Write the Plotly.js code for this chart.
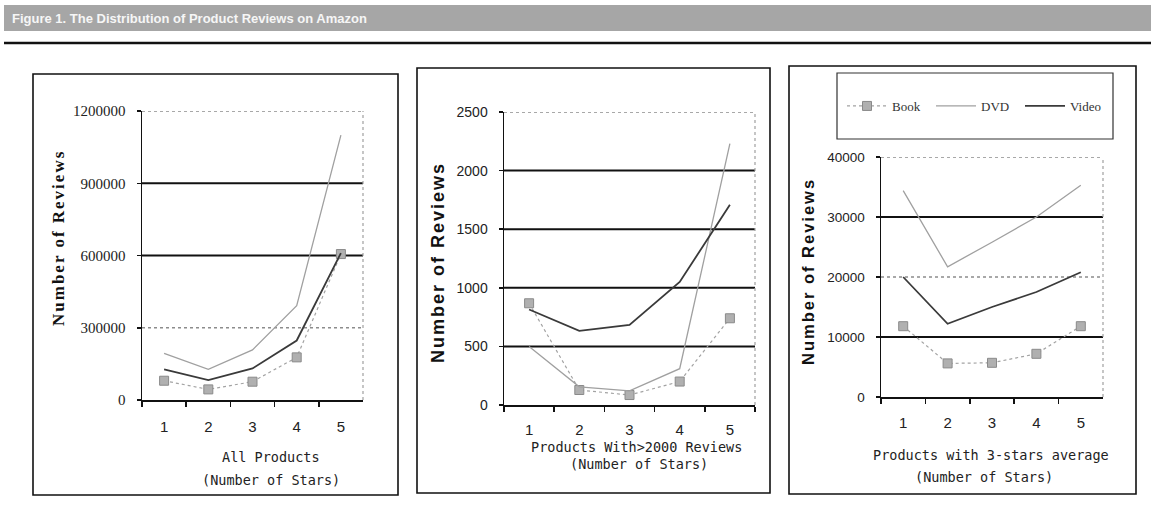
<!DOCTYPE html>
<html><head><meta charset="utf-8">
<script src="https://cdn.plot.ly/plotly-3.0.1.min.js"></script>
<style>html,body{margin:0;padding:0;background:#fff}#chart{width:1151px;height:515px}</style>
</head><body><div id="chart"></div>
<script>
// ---------- data ----------
const stars = ['1', '2', '3', '4', '5'];
const seriesNames = ['Book', 'DVD', 'Video'];

// Panel 1: All Products
const allBook  = [80000, 44000, 76000, 177000, 606000];
const allDVD   = [194000, 127000, 208000, 392000, 1100000];
const allVideo = [127000, 83000, 131000, 247000, 610000];

// Panel 2: Products With >2000 Reviews
const bigBook  = [868, 128, 85, 200, 740];
const bigDVD   = [500, 155, 120, 310, 2230];
const bigVideo = [815, 632, 683, 1050, 1708];

// Panel 3: Products with 3-stars average
const avgBook  = [11800, 5600, 5700, 7200, 11800];
const avgDVD   = [34400, 21700, 25800, 30000, 35300];
const avgVideo = [20000, 12200, 15000, 17500, 20800];

// tick values
const yTicks1 = [0, 300000, 600000, 900000, 1200000];
const yTicks2 = [0, 500, 1000, 1500, 2000, 2500];
const yTicks3 = [0, 10000, 20000, 30000, 40000];

// gridlines (value lists) – dark ones and light dotted ones
const grid1Dark = [600000, 900000];
const grid1Light = [300000, 1200000];
const grid2Dark = [500, 1000, 1500, 2000];
const grid2Light = [2500];
const grid3Dark = [10000, 30000];
const grid3Light = [20000, 40000];

// texts
const figTitle = 'Figure 1. The Distribution of Product Reviews on Amazon';
const yTitle = 'Number of Reviews';
const xTitles = [
  ['All Products', '(Number of Stars)'],
  ['Products With>2000 Reviews', '(Number of Stars)'],
  ['Products with 3-stars average', '(Number of Stars)']
];

// ---------- layout helpers ----------
const W = 1151, H = 515;
const px = x => x / W;
const py = y => 1 - y / H;

const styles = {
  Book:  {line: {color: '#a3a3a3', width: 1.2, dash: 'dot'}, marker: {symbol: 'square', size: 9, color: '#b0b0b0', line: {color: '#8a8a8a', width: 1}}, mode: 'lines+markers'},
  DVD:   {line: {color: '#a0a0a0', width: 1.3}, mode: 'lines'},
  Video: {line: {color: '#3a3a3a', width: 1.8}, mode: 'lines'}
};

const panels = [
  {vals: [allBook, allDVD, allVideo], xa: 'x', ya: 'y'},
  {vals: [bigBook, bigDVD, bigVideo], xa: 'x2', ya: 'y2'},
  {vals: [avgBook, avgDVD, avgVideo], xa: 'x3', ya: 'y3'}
];

const traces = [];
panels.forEach((p, pi) => {
  seriesNames.forEach((name, si) => {
    const s = styles[name];
    const t = {
      type: 'scatter', x: stars, y: p.vals[si], name: name,
      xaxis: p.xa, yaxis: p.ya, mode: s.mode, line: s.line,
      showlegend: pi === 2, hoverinfo: 'skip'
    };
    if (s.marker) t.marker = s.marker;
    traces.push(t);
  });
});

function xAxis(l, r, standoff) {
  return {
    domain: [px(l), px(r)], type: 'category', categoryorder: 'array', categoryarray: stars,
    range: [-0.5, 4.5], tickson: 'boundaries', ticks: 'outside', ticklen: 5, tickwidth: 1.5,
    tickcolor: '#111', showline: true, linecolor: '#111', linewidth: 1.5,
    showgrid: false, zeroline: false, fixedrange: true, ticklabelstandoff: standoff,
    tickfont: {family: 'Liberation Sans, Arial, sans-serif', size: 15, color: '#222'}
  };
}
function yAxis(t, b, max, tickvals, font, anchor) {
  return {
    domain: [py(b), py(t)], range: [0, max], tickvals: tickvals, tickformat: 'd',
    ticks: 'outside', ticklen: 4, tickwidth: 1.5, tickcolor: '#111',
    showline: true, linecolor: '#111', linewidth: 1.5, showgrid: false, zeroline: false,
    fixedrange: true, tickfont: font, ticklabelstandoff: 8, anchor: anchor
  };
}

const shapes = [];
// title banner
shapes.push({type: 'rect', xref: 'paper', yref: 'paper', x0: px(4), x1: px(1151), y0: py(31), y1: py(5),
  fillcolor: '#a6a6a6', line: {width: 0}, layer: 'below'});
shapes.push({type: 'line', xref: 'paper', yref: 'paper', x0: px(4), x1: px(1151), y0: py(43), y1: py(43),
  line: {color: '#111', width: 2.5}});
// panel frames
[[33, 74, 398, 495], [417, 68, 770, 493], [789, 66, 1136, 494]].forEach(b => {
  shapes.push({type: 'rect', xref: 'paper', yref: 'paper', x0: px(b[0]), x1: px(b[2]), y0: py(b[3]), y1: py(b[1]),
    line: {color: '#111', width: 1.6}, fillcolor: 'rgba(0,0,0,0)', layer: 'below'});
});
// legend frame
shapes.push({type: 'rect', xref: 'paper', yref: 'paper', x0: px(837), x1: px(1113), y0: py(139), y1: py(73),
  line: {color: '#333', width: 1.2}, fillcolor: 'rgba(0,0,0,0)'});

function gridShapes(axSuffix, dark, light) {
  dark.forEach(v => shapes.push({type: 'line', xref: 'x' + axSuffix + ' domain', yref: 'y' + axSuffix,
    x0: 0, x1: 1, y0: v, y1: v, line: {color: '#111', width: 2}, layer: 'below'}));
  light.forEach(v => shapes.push({type: 'line', xref: 'x' + axSuffix + ' domain', yref: 'y' + axSuffix,
    x0: 0, x1: 1, y0: v, y1: v, line: {color: '#8c8c8c', width: 1.5, dash: 'dot'}, layer: 'below'}));
  // right border of plot area
  shapes.push({type: 'line', xref: 'x' + axSuffix + ' domain', yref: 'y' + axSuffix + ' domain',
    x0: 1, x1: 1, y0: 0, y1: 1, line: {color: '#a0a0a0', width: 1.2, dash: 'dot'}, layer: 'below'});
}
gridShapes('', grid1Dark, grid1Light);
gridShapes('2', grid2Dark, grid2Light);
gridShapes('3', grid3Dark, grid3Light);

const monoFont = {family: 'DejaVu Sans Mono, monospace', size: 13.5, color: '#222'};
const annotations = [
  {text: '<b>' + figTitle + '</b>', xref: 'paper', yref: 'paper', x: px(10), y: py(18), xanchor: 'left', yanchor: 'middle',
    showarrow: false, font: {family: 'Liberation Sans, Arial, sans-serif', size: 13, color: '#f6f6f6'}},
  {text: '<b>' + yTitle + '</b>', xref: 'paper', yref: 'paper', x: px(58), y: py(238), textangle: -90, showarrow: false,
    xanchor: 'center', yanchor: 'middle', font: {family: 'Liberation Serif, Times New Roman, serif', size: 17, color: '#111'}},
  {text: '<b>' + yTitle + '</b>', xref: 'paper', yref: 'paper', x: px(438), y: py(263), textangle: -90, showarrow: false,
    xanchor: 'center', yanchor: 'middle', font: {family: 'Liberation Sans, Arial, sans-serif', size: 18, color: '#111'}},
  {text: '<b>' + yTitle + '</b>', xref: 'paper', yref: 'paper', x: px(808), y: py(272), textangle: -90, showarrow: false,
    xanchor: 'center', yanchor: 'middle', font: {family: 'Liberation Sans, Arial, sans-serif', size: 16.5, color: '#111'}}
];
const xTitlePos = [[[271, 457], [271, 480]], [[637, 447], [639, 464]], [[991, 455], [984, 477]]];
xTitles.forEach((lines, i) => {
  lines.forEach((t, j) => {
    annotations.push({text: t, xref: 'paper', yref: 'paper', x: px(xTitlePos[i][j][0]), y: py(xTitlePos[i][j][1]),
      xanchor: 'center', yanchor: 'middle', showarrow: false, font: monoFont});
  });
});

const layout = {
  width: W, height: H, margin: {l: 0, r: 0, t: 0, b: 0},
  paper_bgcolor: '#fff', plot_bgcolor: 'rgba(0,0,0,0)', showlegend: true,
  xaxis: xAxis(142, 363, 12),
  yaxis: yAxis(111, 400, 1200000, yTicks1, {family: 'Liberation Serif, Times New Roman, serif', size: 15, color: '#222'}, 'x'),
  xaxis2: xAxis(504, 755, 10),
  yaxis2: yAxis(112, 405, 2500, yTicks2, {family: 'Liberation Sans, Arial, sans-serif', size: 14, color: '#222'}, 'x2'),
  xaxis3: xAxis(881, 1103, 11),
  yaxis3: yAxis(157, 397, 40000, yTicks3, {family: 'Liberation Sans, Arial, sans-serif', size: 13.5, color: '#222'}, 'x3'),
  legend: {orientation: 'h', x: px(842), y: py(106), xanchor: 'left', yanchor: 'middle',
    bgcolor: 'rgba(0,0,0,0)', borderwidth: 0, itemwidth: 40, entrywidth: 34, entrywidthmode: 'pixels',
    font: {family: 'Liberation Serif, Times New Roman, serif', size: 13, color: '#333'}},
  shapes: shapes, annotations: annotations
};
layout.xaxis.anchor = 'y'; layout.xaxis2.anchor = 'y2'; layout.xaxis3.anchor = 'y3';

Plotly.newPlot('chart', traces, layout, {staticPlot: true, displayModeBar: false}).then(() => {
  document.querySelectorAll('.annotation-text').forEach(el => {
    if (el.textContent === yTitle) el.style.letterSpacing = '2px';
  });
});
</script></body></html>
